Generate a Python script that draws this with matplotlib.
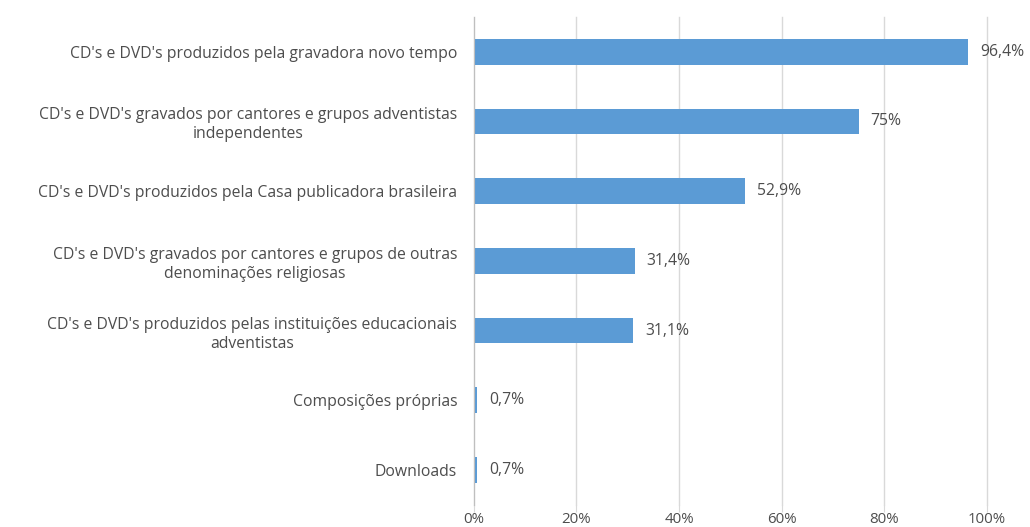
import matplotlib.pyplot as plt

categories = [
    "CD's e DVD's produzidos pela gravadora novo tempo",
    "CD's e DVD's gravados por cantores e grupos adventistas\nindependentes",
    "CD's e DVD's produzidos pela Casa publicadora brasileira",
    "CD's e DVD's gravados por cantores e grupos de outras\ndenominações religiosas",
    "CD's e DVD's produzidos pelas instituições educacionais\nadventistas",
    "Composições próprias",
    "Downloads",
]
values = [96.4, 75, 52.9, 31.4, 31.1, 0.7, 0.7]
value_labels = ["96,4%", "75%", "52,9%", "31,4%", "31,1%", "0,7%", "0,7%"]
xticks = [0, 20, 40, 60, 80, 100]
xtick_labels = ["0%", "20%", "40%", "60%", "80%", "100%"]

plt.rcParams['font.family'] = ['Open Sans', 'DejaVu Sans']
text_color = '#4d4d4d'
grid_color = '#d9d9d9'
fs = 11.3

fig = plt.figure(figsize=(10.3, 5.27), dpi=100)
ax = fig.add_axes([0.460, 0.042, 0.498, 0.926])

ypos = list(range(len(categories)))
ax.barh(ypos, values, height=0.37, color='#5b9bd5', zorder=3)
ax.set_ylim(len(categories) - 0.5, -0.5)
ax.set_xlim(0, 100)

for y, v, lab in zip(ypos, values, value_labels):
    ax.text(v + 2.3, y, lab, va='center', ha='left', fontsize=fs, color=text_color)

ax.set_yticks(ypos)
ax.set_yticklabels(categories, fontsize=fs, color=text_color,
                   multialignment='center', linespacing=1.25)
ax.tick_params(axis='y', length=0, pad=12)

ax.set_xticks(xticks)
ax.set_xticklabels(xtick_labels, fontsize=fs - 0.5, color=text_color)
ax.tick_params(axis='x', length=5, color=grid_color, pad=0)

ax.grid(axis='x', color=grid_color, linewidth=1, zorder=0)
for gl in ax.get_xgridlines():
    gl.set_clip_on(False)
for s in ['top', 'right', 'bottom']:
    ax.spines[s].set_visible(False)
ax.spines['left'].set_color('#bfbfbf')
ax.spines['left'].set_zorder(4)

fig.savefig('out.png', dpi=100, facecolor='white')
